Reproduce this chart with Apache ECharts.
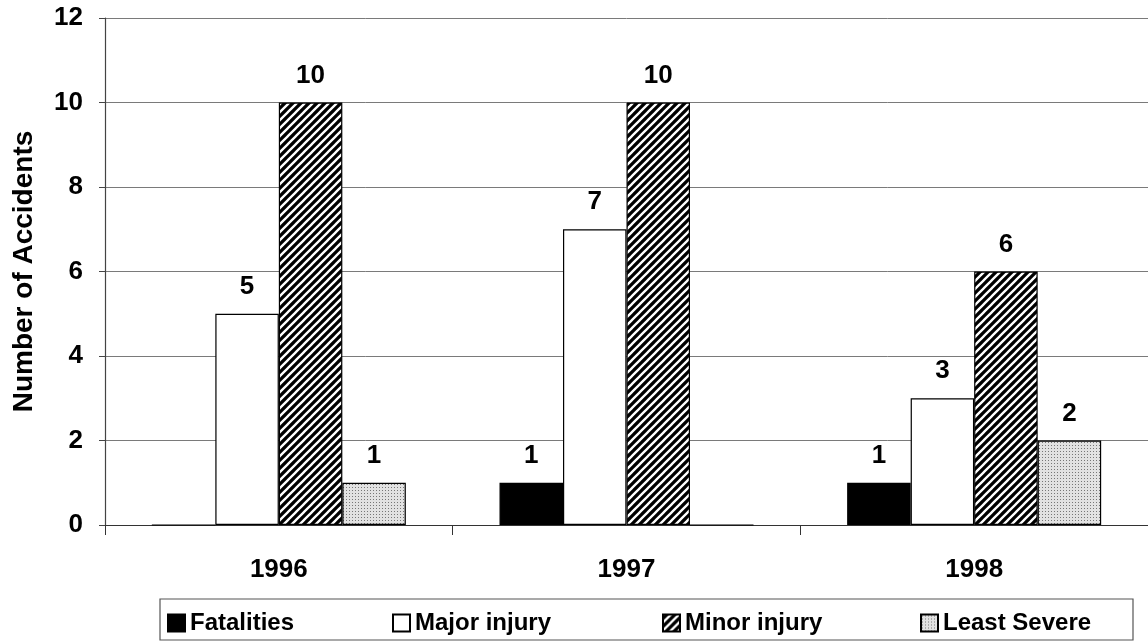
<!DOCTYPE html>
<html>
<head>
<meta charset="utf-8">
<script src="https://cdn.jsdelivr.net/npm/echarts@6/dist/echarts.min.js"></script>
<style>
html,body{margin:0;padding:0;background:#fff;}
#c{width:1148px;height:642px;}
</style>
</head>
<body>
<div id="c"></div>
<script>
const categories = ['1996', '1997', '1998'];
const seriesNames = ['Fatalities', 'Major injury', 'Minor injury', 'Least Severe'];
const fatalities = [0, 1, 1];
const majorInjury = [5, 7, 3];
const minorInjury = [10, 10, 6];
const leastSevere = [1, 0, 2];
const yTicks = [0, 2, 4, 6, 8, 10, 12];

function hatchPattern() {
  const n = 8;
  const cv = document.createElement('canvas');
  cv.width = n; cv.height = n;
  const ctx = cv.getContext('2d');
  ctx.fillStyle = '#000';
  ctx.fillRect(0, 0, n, n);
  ctx.strokeStyle = '#fff';
  ctx.lineWidth = 2.3;
  ctx.beginPath();
  ctx.moveTo(0, n); ctx.lineTo(n, 0);
  ctx.moveTo(-n/2, n/2); ctx.lineTo(n/2, -n/2);
  ctx.moveTo(n/2, n*1.5); ctx.lineTo(n*1.5, n/2);
  ctx.stroke();
  return cv;
}
function dotPattern() {
  const cv = document.createElement('canvas');
  cv.width = 3; cv.height = 3;
  const ctx = cv.getContext('2d');
  ctx.fillStyle = '#e2e2e2';
  ctx.fillRect(0, 0, 3, 3);
  ctx.fillStyle = '#777';
  ctx.fillRect(1, 1, 1, 1);
  return cv;
}

const FONT = '"Liberation Sans", Arial, sans-serif';
const chart = echarts.init(document.getElementById('c'), null, {renderer: 'canvas'});

const fills = [
  '#000000',
  '#ffffff',
  {image: hatchPattern(), repeat: 'repeat'},
  {image: dotPattern(), repeat: 'repeat'}
];
const dataSets = [fatalities, majorInjury, minorInjury, leastSevere];
const legendLefts = [167, 392, 662, 920];

const series = seriesNames.map((name, i) => ({
  name: name,
  type: 'bar',
  data: dataSets[i],
  barWidth: 63.5,
  barGap: '0%',
  itemStyle: {color: fills[i], borderColor: '#000', borderWidth: 1.2},
  label: {
    show: true,
    position: 'top',
    distance: 14,
    fontFamily: FONT,
    fontWeight: 'bold',
    fontSize: 26,
    color: '#000',
    formatter: p => (p.value === 0 ? '' : String(p.value))
  }
}));

const option = {
  backgroundColor: '#fff',
  animation: false,
  grid: {left: 105, top: 18, width: 1048, height: 507},
  xAxis: {
    type: 'category',
    data: categories,
    axisLine: {lineStyle: {color: '#333', width: 1.2}},
    axisTick: {show: true, length: 10, lineStyle: {color: '#333'}},
    axisLabel: {fontFamily: FONT, fontWeight: 'bold', fontSize: 26, color: '#000', margin: 32}
  },
  yAxis: {
    type: 'value',
    min: 0,
    max: 12,
    interval: 2,
    name: 'Number of Accidents',
    nameLocation: 'middle',
    nameGap: 67,
    nameTextStyle: {fontFamily: FONT, fontWeight: 'bold', fontSize: 28, color: '#000'},
    axisLine: {show: true, lineStyle: {color: '#444', width: 1.2}},
    axisTick: {show: true, length: 6, lineStyle: {color: '#444'}},
    axisLabel: {
      fontFamily: FONT, fontWeight: 'bold', fontSize: 26, color: '#000', margin: 22,
      formatter: v => (yTicks.indexOf(v) >= 0 ? String(v) : '')
    },
    splitLine: {show: true, lineStyle: {color: '#7a7a7a', width: 1}}
  },
  legend: seriesNames.map((name, i) => ({
    data: [name],
    left: legendLefts[i],
    top: 611,
    padding: 0,
    itemWidth: 17,
    itemHeight: 17,
    icon: 'rect',
    selectedMode: false,
    textStyle: {fontFamily: FONT, fontWeight: 'bold', fontSize: 24, color: '#000'}
  })),
  graphic: [{
    type: 'rect',
    shape: {x: 160, y: 599, width: 973, height: 41},
    style: {fill: 'none', stroke: '#555', lineWidth: 1.2},
    silent: true
  }],
  series: series
};
chart.setOption(option);
</script>
</body>
</html>
